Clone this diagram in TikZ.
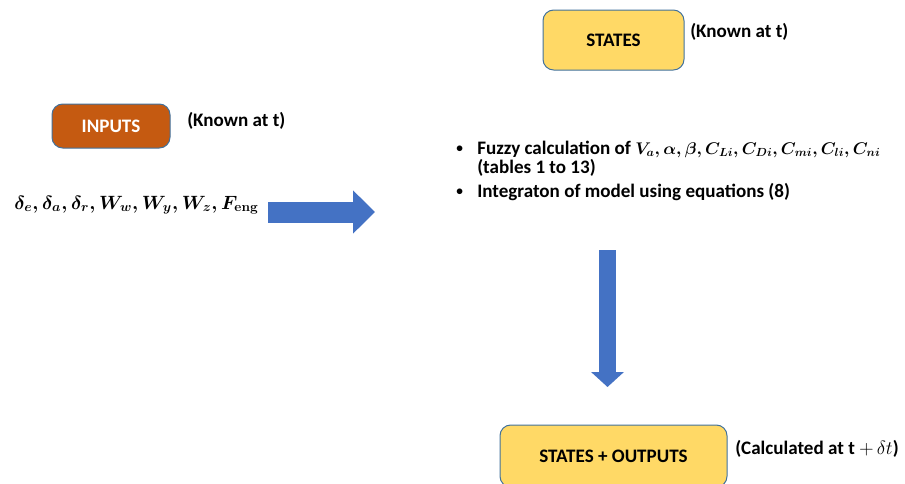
\documentclass[tikz,border=0pt]{standalone}
\usepackage{amsmath,amssymb}
\usepackage{fontspec}
\setmainfont{Carlito}
\usetikzlibrary{arrows.meta}
\definecolor{stateyellow}{HTML}{FFD966}
\definecolor{inputorange}{HTML}{C55A11}
\definecolor{boxedge}{HTML}{41719C}
\definecolor{flowblue}{HTML}{4472C4}
\newcommand{\bodyfont}{\fontsize{14.3}{16}\selectfont\bfseries}
\newcommand{\mathfont}{\fontsize{13.8}{16}\selectfont\boldmath}
\newcommand{\dotmark}{\raisebox{1.2pt}{\fontsize{10}{12}\selectfont\textbullet}}
\tikzset{
  box/.style={draw=boxedge, line width=0.75pt, rounded corners=8pt,
    font=\bodyfont, inner sep=0pt},
  note/.style={anchor=base west, font=\bodyfont, inner sep=0pt},
  flow/.style={draw=flowblue, line width=#1},
}

\begin{document}
\begin{tikzpicture}[x=0.75pt, y=-0.75pt]
         \useasboundingbox (0, 0) rectangle (905, 483);
         \node [box, fill=stateyellow, minimum width=105.75pt, minimum height=45pt] (ST) at (613.5, 40) {STATES};
         \node [note] (STK) at (690, 37) {(Known at t)};
         \node [box, fill=inputorange, text=white, minimum width=88.5pt, minimum height=33pt] (IN) at (111, 126) {INPUTS};
         \node [note] (INK) at (187, 126) {(Known at t)};
         \node [note, font=\mathfont] (VARS) at (14, 209)
           {$\delta_e, \delta_a, \delta_r, W_w, W_y, W_z, F_{\mathbf{eng}}$};
         \node [note] (B1) at (456, 154) {\dotmark};
         \node [note] (L1) at (477, 154)
           {Fuzzy calculation of \scalebox{0.88}{\mathfont$V_a, \alpha, \beta, C_{Li}, C_{Di}, C_{mi}, C_{li}, C_{ni}$}};
         \node [note] (L2) at (477, 173) {(tables 1 to 13)};
         \node [note] (B2) at (456, 197) {\dotmark};
         \node [note] (L3) at (477, 197) {Integraton of model using equations (8)};
         \node [box, fill=stateyellow, minimum width=170.25pt, minimum height=46.5pt] (SO) at (613.5, 456) {STATES + OUTPUTS};
         \node [note] (SOK) at (735, 454) {(Calculated at t $+\,\delta t$)};
         \coordinate (RA1) at (268, 212);
         \coordinate (RA2) at (375, 212);
         \coordinate (DA1) at (607.5, 250);
         \coordinate (DA2) at (607.5, 387);
         \draw [flow=15.75pt, -{Triangle[length=16.5pt, width=31.5pt, fill=flowblue]}] (RA1) -- (RA2);
         \draw [flow=12.75pt, -{Triangle[length=11.25pt, width=24pt, fill=flowblue]}] (DA1) -- (DA2);
\end{tikzpicture}
\end{document}
